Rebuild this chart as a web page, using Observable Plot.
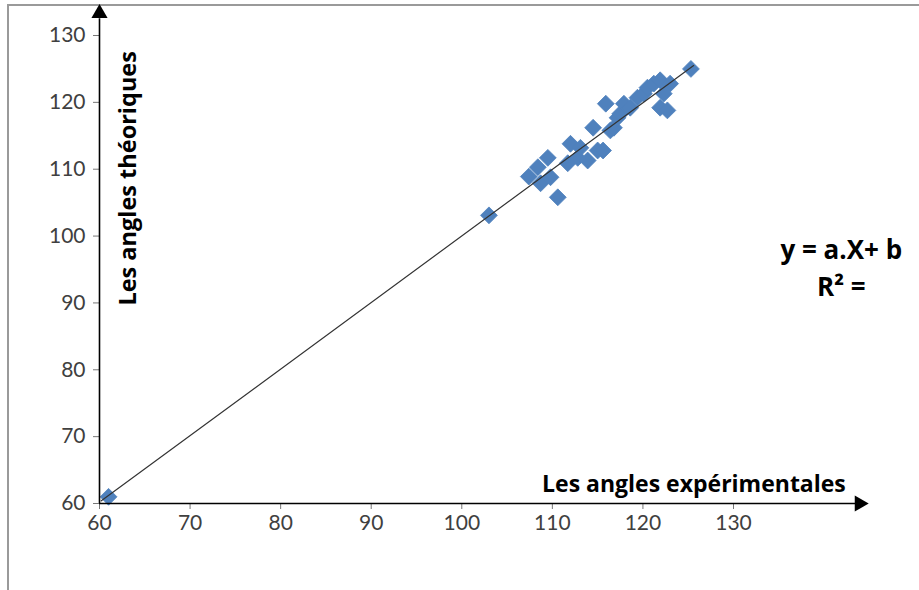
<!DOCTYPE html>
<html><head><meta charset="utf-8">
<script src="https://cdn.jsdelivr.net/npm/d3@7"></script>
<script src="https://cdn.jsdelivr.net/npm/@observablehq/plot@0.6"></script>
<style>
body{margin:0;background:#fff;}
#wrap{position:relative;width:919px;height:590px;overflow:hidden;}
#border{position:absolute;left:7px;top:4px;width:930px;height:600px;border-top:2px solid #9a9a9a;border-left:2px solid #9a9a9a;pointer-events:none;}
</style></head>
<body><div id="wrap"><div id="border"></div></div>
<script>
const xTicks = [60, 70, 80, 90, 100, 110, 120, 130];
const yTicks = [60, 70, 80, 90, 100, 110, 120, 130];
const expAngles = [61.0, 103.0, 107.4, 108.4, 108.7, 109.5, 109.8, 110.6, 111.7, 112.0, 112.8, 113.1, 113.9, 114.5, 115.0, 115.6, 115.9, 116.4, 116.8, 117.2, 117.5, 117.9, 118.6, 119.4, 120.1, 120.5, 121.2, 121.9, 121.9, 122.3, 122.7, 123.0, 125.3];
const theoAngles = [61.0, 103.1, 108.9, 110.3, 107.9, 111.7, 108.8, 105.8, 110.9, 113.8, 111.7, 113.2, 111.3, 116.2, 112.8, 112.8, 119.8, 115.8, 116.2, 117.7, 118.3, 119.8, 119.2, 120.7, 121.3, 122.2, 122.8, 123.3, 119.2, 121.3, 118.8, 122.8, 125.0];
const trendX = [60.2, 125.6];
const trendY = [60.4, 125.5];
const xTitle = "Les angles expérimentales";
const yTitle = "Les angles théoriques";
const eqLines = ["y = a.X+ b", "R² ="];

const pts = expAngles.map((x, i) => ({x, y: theoAngles[i]}));
const trend = trendX.map((x, i) => ({x, y: trendY[i]}));
const font = "Lato, 'Open Sans', sans-serif";
const bold = "'Open Sans', sans-serif";

const chart = Plot.plot({
  width: 919, height: 590,
  marginLeft: 99, marginRight: 186, marginTop: 35, marginBottom: 87,
  style: {fontFamily: font, fontSize: "21px", color: "#404040", background: "transparent", overflow: "visible"},
  x: {domain: [60, 130], label: null},
  y: {domain: [60, 130], label: null},
  marks: [
    Plot.axisX({ticks: xTicks, tickSize: 6, tickPadding: 6, fontSize: 21, stroke: "#777", fill: "#404040", tickFormat: d => d, label: null}),
    Plot.axisY({ticks: yTicks, tickSize: 6, tickPadding: 8, fontSize: 21, stroke: "#777", fill: "#404040", tickFormat: d => d, label: null}),
    Plot.dot(pts, {x: "x", y: "y", symbol: "diamond2", r: 7.6, fill: "#4F81BD", stroke: "#4F81BD", strokeWidth: 0.8}),
    Plot.line(trend, {x: "x", y: "y", stroke: "#333", strokeWidth: 1.2}),
    Plot.ruleY([60], {x1: 60, x2: 143.5, stroke: "#000", strokeWidth: 1.6}),
    Plot.ruleX([60], {y1: 60, y2: 132.5, stroke: "#000", strokeWidth: 1.6}),
    Plot.dot([{x: 143.9, y: 60}], {x: "x", y: "y", symbol: "triangle", rotate: 90, r: 6, fill: "#000", stroke: null}),
    Plot.dot([{x: 60, y: 133.3}], {x: "x", y: "y", symbol: "triangle", r: 6, fill: "#000", stroke: null}),
    Plot.text([xTitle], {x: 142.4, y: 60, dy: -19, text: d => d, textAnchor: "end", fontWeight: "bold", fontSize: 23, fill: "#000", fontFamily: bold}),
    Plot.text([yTitle], {x: 60, y: 89.6, dx: 29, text: d => d, rotate: -90, textAnchor: "start", fontWeight: "bold", fontSize: 23.5, fill: "#000", fontFamily: bold}),
    Plot.text([eqLines[0]], {x: 141.9, y: 97.8, text: d => d, fontWeight: "bold", fontSize: 26, fill: "#000", fontFamily: bold}),
    Plot.text([eqLines[1]], {x: 141.9, y: 92.3, text: d => d, fontWeight: "bold", fontSize: 26, fill: "#000", fontFamily: bold})
  ]
});
document.getElementById("wrap").appendChild(chart);
chart.style.position = "absolute";
chart.style.left = "0";
chart.style.top = "0";
</script>
</body></html>
